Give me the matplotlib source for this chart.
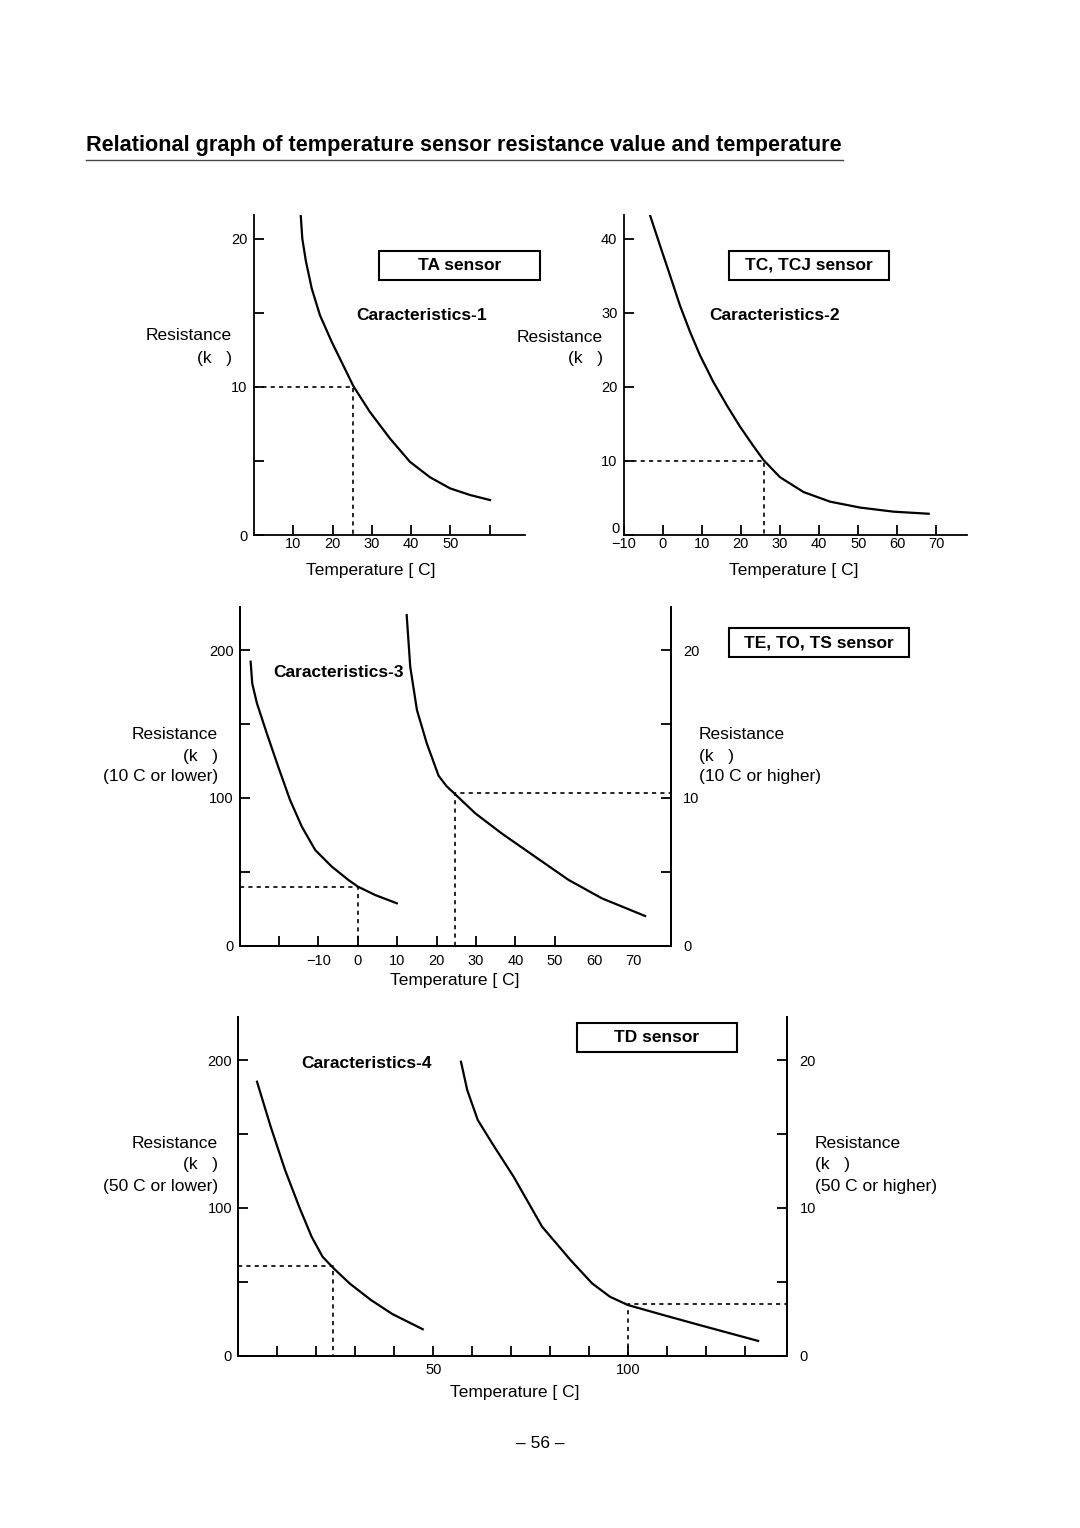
import matplotlib
matplotlib.use('Agg')
import matplotlib.pyplot as plt
from matplotlib.patches import Rectangle

plt.rcParams['font.family'] = ['Liberation Sans', 'DejaVu Sans']

# values
# Caracteristics-1 (TA sensor)
ta_temp = [11.9, 12.3, 13.2, 14.7, 16.8, 19.8, 22.7, 25.3, 29.5, 34.6, 39.7, 44.8, 49.9, 55.0, 60.1]
ta_res = [21.57, 20.0, 18.5, 16.64, 14.83, 13.03, 11.46, 10.05, 8.31, 6.52, 4.94, 3.9, 3.15, 2.7, 2.36]
ta_mark = (25.3, 10.0)

# Caracteristics-2 (TC, TCJ sensor)
tc_temp = [-3.2, -0.7, 1.9, 4.4, 7.0, 9.5, 12.9, 16.4, 19.8, 23.2, 25.8, 30.0, 36.0, 42.8, 50.5, 59.0, 68.0]
tc_res = [43.1, 39.1, 35.0, 31.0, 27.4, 24.3, 20.7, 17.5, 14.6, 12.0, 10.1, 7.8, 5.8, 4.5, 3.7, 3.15, 2.87]
tc_mark = (25.8, 10.0)

# Caracteristics-3 (TE, TO, TS sensor), low range on left scale, high on right
te_low_temp = [-27.2, -26.8, -25.6, -23.1, -20.2, -17.2, -14.2, -10.8, -6.6, -2.4, 0.0, 4.4, 9.9]
te_low_res = [192.2, 177.5, 164, 143.7, 121.1, 98.6, 80.5, 64.7, 53.5, 44.5, 40.0, 34.3, 28.7]
te_high_temp = [12.4, 13.3, 15.0, 17.5, 20.5, 22.5, 24.7, 29.8, 36.5, 45.0, 53.5, 61.9, 72.9]
te_high_res = [22.37, 18.88, 15.95, 13.69, 11.5, 10.8, 10.25, 8.96, 7.6, 6.02, 4.45, 3.21, 2.01]
te_low_mark = (0.0, 39.5)
te_high_mark = (24.7, 10.3)

# Caracteristics-4 (TD sensor)
td_low_temp = [4.8, 8.3, 12.0, 15.6, 18.8, 21.6, 24.3, 28.5, 34.0, 39.5, 47.3]
td_low_res = [185.4, 155, 125.6, 100.8, 80.5, 67, 59.5, 49, 37.7, 28.2, 17.9]
td_high_temp = [57.1, 58.7, 61.4, 65.1, 70.6, 77.9, 85.2, 90.7, 95.3, 99.9, 109.0, 118.2, 133.3]
td_high_res = [19.89, 17.98, 15.95, 14.37, 12.11, 8.73, 6.47, 4.9, 3.99, 3.43, 2.75, 2.08, 1.0]
td_low_mark = (24.3, 60.7)
td_high_mark = (100.0, 3.5)

W, H = 1080, 1528
fig = plt.figure(figsize=(W/100, H/100), dpi=100)

def px_axes(x0, x1, ytop, ybot):
    return fig.add_axes([x0/W, 1-ybot/H, (x1-x0)/W, (ybot-ytop)/H])

def txt(x, y, s, **kw):
    kw.setdefault('fontsize', 12.5)
    kw.setdefault('va', 'center')
    fig.text(x/W, 1-y/H, s, **kw)

def box(x0, x1, ytop, ybot, s):
    fig.patches.append(Rectangle((x0/W, 1-ybot/H), (x1-x0)/W, (ybot-ytop)/H,
                                 transform=fig.transFigure, fill=False, lw=1.5, ec='black'))
    txt((x0+x1)/2, (ytop+ybot)/2, s, ha='center', fontweight='bold')

def style(ax, right=False):
    ax.spines['top'].set_visible(False)
    ax.spines['right'].set_visible(right)
    for sp in ax.spines.values():
        sp.set_linewidth(1.3)
    ax.tick_params(direction='in', length=7, width=1.3, labelsize=10.5, pad=4.5)

line = dict(color='black', lw=1.6)
dots = dict(color='black', lw=1.2, ls=(0, (2.5, 2.5)))

# title
txt(86, 145, 'Relational graph of temperature sensor resistance value and temperature',
    fontsize=15.6, fontweight='bold', ha='left')
fig.add_artist(plt.Line2D([86/W, 843/W], [1-160/H, 1-160/H], color='#444444', lw=1.0))

# chart 1
ax1 = px_axes(254, 525, 215, 535)
ax1.plot(ta_temp, ta_res, **line)
ax1.plot([0, ta_mark[0], ta_mark[0]], [ta_mark[1], ta_mark[1], 0], **dots)
ax1.set_xlim(0, 69)
ax1.set_ylim(0, 21.6)
ax1.set_xticks([10, 20, 30, 40, 50, 60], ['10', '20', '30', '40', '50', ''])
ax1.set_yticks([0, 5, 10, 15, 20], ['0', '', '10', '', '20'])
style(ax1)
ax1.tick_params(axis='x', pad=1.5)
box(379, 540, 251, 280, 'TA sensor')
txt(422, 316, 'Caracteristics-1', ha='center', fontweight='bold')
txt(232, 336, 'Resistance', ha='right')
txt(232, 358, '(k   )', ha='right')
txt(371, 570, 'Temperature [ C]', ha='center')

# chart 2
ax2 = px_axes(623.6, 967, 215, 535)
ax2.plot(tc_temp, tc_res, **line)
ax2.plot([-10, tc_mark[0], tc_mark[0]], [tc_mark[1], tc_mark[1], 0], **dots)
ax2.set_xlim(-10, 77.8)
ax2.set_ylim(0, 43.2)
ax2.set_xticks(range(-10, 80, 10), ['\u221210'] + [str(v) for v in range(0, 80, 10)])
ax2.set_yticks([0, 10, 20, 30, 40], ['', '10', '20', '30', '40'])
style(ax2)
ax2.tick_params(axis='x', pad=1.5)
txt(615, 529, '0', ha='center', fontsize=10.5)
box(729, 889, 251, 280, 'TC, TCJ sensor')
txt(775, 316, 'Caracteristics-2', ha='center', fontweight='bold')
txt(603, 338, 'Resistance', ha='right')
txt(603, 358, '(k   )', ha='right')
txt(794, 570, 'Temperature [ C]', ha='center')

# chart 3
ax3 = px_axes(240, 670.7, 606.7, 945.7)
ax3b = ax3.twinx()
ax3.plot(te_low_temp, te_low_res, **line)
ax3.plot([-30, te_low_mark[0], te_low_mark[0]], [te_low_mark[1], te_low_mark[1], 0], **dots)
ax3b.plot(te_high_temp, te_high_res, **line)
ax3b.plot([te_high_mark[0], te_high_mark[0], 80], [0, te_high_mark[1], te_high_mark[1]], **dots)
ax3.set_xlim(-29.9, 79.4)
ax3.set_ylim(0, 229.4)
ax3b.set_ylim(0, 22.94)
ax3.xaxis.remove_overlapping_locs = False
ax3.set_xticks(range(-10, 80, 10), ['\u221210'] + [str(v) for v in range(0, 80, 10)])
ax3.set_xticks(range(-20, 60, 10), minor=True)
ax3.set_yticks([0, 50, 100, 150, 200], ['0', '', '100', '', '200'])
ax3b.set_yticks([0, 5, 10, 15, 20], ['0', '', '10', '', '20'])
style(ax3, right=True)
style(ax3b, right=True)
ax3.tick_params(axis='x', which='major', length=0, pad=6)
ax3.tick_params(axis='x', which='minor', direction='in', length=7, width=1.3)
ax3b.tick_params(axis='y', pad=9)
box(729, 909, 628, 657, 'TE, TO, TS sensor')
txt(339, 673, 'Caracteristics-3', ha='center', fontweight='bold')
txt(218, 735, 'Resistance', ha='right')
txt(218, 757, '(k   )', ha='right')
txt(218, 777, '(10 C or lower)', ha='right')
txt(699, 735, 'Resistance', ha='left')
txt(699, 757, '(k   )', ha='left')
txt(699, 777, '(10 C or higher)', ha='left')
txt(455, 980, 'Temperature [ C]', ha='center')

# chart 4
ax4 = px_axes(238.3, 787, 1016.7, 1355.7)
ax4b = ax4.twinx()
ax4.plot(td_low_temp, td_low_res, **line)
ax4.plot([0, td_low_mark[0], td_low_mark[0]], [td_low_mark[1], td_low_mark[1], 0], **dots)
ax4b.plot(td_high_temp, td_high_res, **line)
ax4b.plot([td_high_mark[0], td_high_mark[0], 141], [0, td_high_mark[1], td_high_mark[1]], **dots)
ax4.set_xlim(0, 140.7)
ax4.set_ylim(0, 229.4)
ax4b.set_ylim(0, 22.94)
ax4.set_xticks(range(10, 140, 10),
               ['50' if v == 50 else '100' if v == 100 else '' for v in range(10, 140, 10)])
ax4.set_yticks([0, 50, 100, 150, 200], ['0', '', '100', '', '200'])
ax4b.set_yticks([0, 5, 10, 15, 20], ['0', '', '10', '', '20'])
style(ax4, right=True)
style(ax4b, right=True)
ax4.tick_params(axis='x', pad=5)
ax4b.tick_params(axis='y', pad=9)
box(577, 737, 1023, 1052, 'TD sensor')
txt(366, 1063, 'Caracteristics-4', ha='center', fontweight='bold')
txt(218, 1144, 'Resistance', ha='right')
txt(218, 1165, '(k   )', ha='right')
txt(218, 1186, '(50 C or lower)', ha='right')
txt(815, 1144, 'Resistance', ha='left')
txt(815, 1165, '(k   )', ha='left')
txt(815, 1186, '(50 C or higher)', ha='left')
txt(515, 1392, 'Temperature [ C]', ha='center')

txt(540, 1444, '\u2013 56 \u2013', ha='center')

fig.savefig('out.png', dpi=100)
